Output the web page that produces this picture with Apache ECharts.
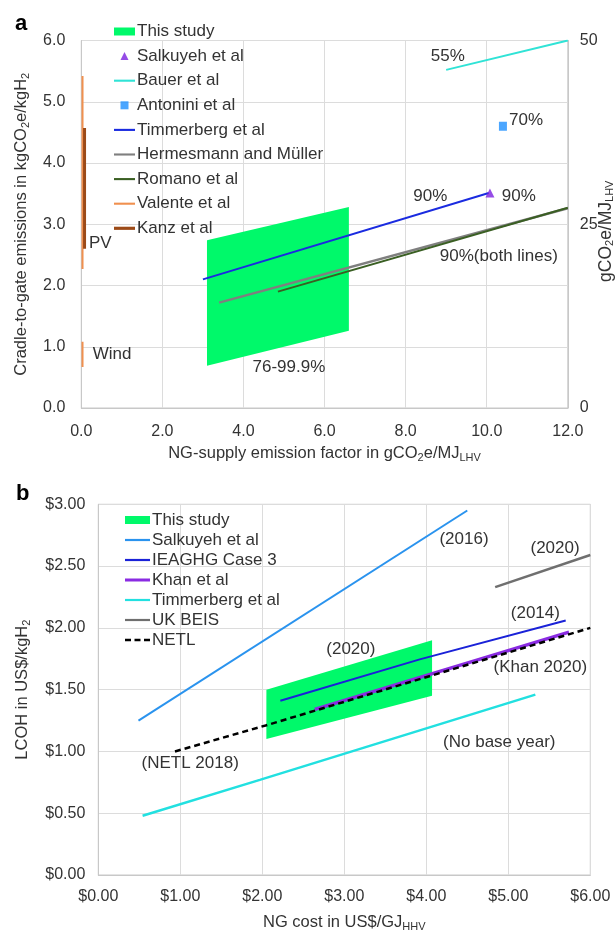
<!DOCTYPE html>
<html><head><meta charset="utf-8">
<script src="https://cdn.jsdelivr.net/npm/echarts@6.0.0/dist/echarts.min.js"></script>
<style>
html,body{margin:0;padding:0;background:#fff;}
#a{position:absolute;left:0;top:0;width:616px;height:465px;}
#b{position:absolute;left:0;top:465px;width:616px;height:466px;}
</style>
</head><body><div id="a"></div><div id="b"></div>
<script>
// ---------- Panel a data ----------
const studyA_X = [3.1, 6.6, 6.6, 3.1];
const studyA_Y = [2.74, 3.28, 1.26, 0.69];
const salkA_X = [10.08];
const salkA_Y = [3.51];
const bauerX = [9.0, 12.0];
const bauerY = [5.52, 6.0];
const antoniniX = [10.4];
const antoniniY = [4.6];
const timmA_X = [3.0, 10.05];
const timmA_Y = [2.1, 3.51];
const hermX = [3.4, 12.0];
const hermY = [1.72, 3.26];
const romX = [4.85, 12.0];
const romY = [1.9, 3.27];
const valenteX = [0.03, 0.03];
const valentePV_Y = [5.42, 2.27];
const valenteWind_Y = [1.08, 0.67];
const kanzX = [0.08, 0.08];
const kanzY = [4.57, 2.6];
const annotA_text = ['55%', '70%', '90%', '90%', '90%(both lines)', '76-99.9%', 'PV', 'Wind'];
const annotA_X = [9.04, 10.97, 8.61, 10.79, 10.30, 5.12, 0.47, 0.76];
const annotA_Y = [5.75, 4.69, 3.45, 3.45, 2.48, 0.67, 2.69, 0.87];

// ---------- Panel b data ----------
const studyB_X = [2.05, 4.07, 4.07, 2.05];
const studyB_Y = [1.50, 1.90, 1.45, 1.10];
const salkB_X = [0.49, 4.5];
const salkB_Y = [1.25, 2.95];
const ieaghgX = [2.22, 3.92, 5.70];
const ieaghgY = [1.41, 1.745, 2.06];
const khanX = [2.64, 5.74];
const khanY = [1.34, 1.965];
const timmB_X = [0.54, 1.97, 5.33];
const timmB_Y = [0.48, 0.77, 1.46];
const beisX = [4.84, 6.0];
const beisY = [2.33, 2.59];
const netlX = [0.935, 2.04, 6.0];
const netlY = [1.0, 1.21, 2.0];
const annotB_text = ['(2016)', '(2020)', '(2014)', '(2020)', '(Khan 2020)', '(No base year)', '(NETL 2018)'];
const annotB_X = [4.46, 5.57, 5.33, 3.08, 5.39, 4.89, 1.12];
const annotB_Y = [2.72, 2.645, 2.12, 1.83, 1.68, 1.075, 0.905];

// ---------- helpers ----------
const FONT = '"Liberation Sans", Arial, sans-serif';
const TXT = '#333333';
const GRID = '#dcdcdc';
const BORDER = '#c8c8c8';
const GREEN = '#00f96a';
const FS = 17;
const zip = (xs, ys) => xs.map((x, i) => [x, ys[i]]);
const rich = { sub: { fontSize: 11, lineHeight: 20, verticalAlign: 'bottom', fontFamily: FONT, color: TXT } };
const nameStyle = { fontSize: 16.5, lineHeight: 20, color: TXT, fontFamily: FONT, rich: rich };
const ICON_LINE2 = 'path://M0,0H20V2H0Z';
const ICON_LINE3 = 'path://M0,0H20V3H0Z';
const ICON_BLINE = 'path://M0,0H25V2.2H0Z';
const ICON_BLINE3 = 'path://M0,0H25V3H0Z';
const ICON_DASH = 'path://M0,0H6V2.6H0Z M9.5,0H15.5V2.6H9.5Z M19,0H25V2.6H19Z';

function lineSeries(name, xs, ys, color, width, extra) {
  return Object.assign({
    type: 'line', name: name, data: zip(xs, ys), symbol: 'none', silent: true,
    lineStyle: { color: color, width: width }, itemStyle: { color: color }, z: 3
  }, extra || {});
}
function polySeries(name, xs, ys) {
  return {
    type: 'custom', name: name, silent: true, z: 1,
    itemStyle: { color: GREEN },
    data: zip(xs, ys),
    encode: { x: 0, y: 1 },
    renderItem: function (params, api) {
      if (params.dataIndex !== 0) return;
      const pts = xs.map((x, i) => api.coord([x, ys[i]]));
      return { type: 'polygon', shape: { points: pts }, style: { fill: GREEN } };
    }
  };
}
function annotSeries(texts, xs, ys) {
  return {
    type: 'scatter', name: '_annot', silent: true, symbolSize: 1,
    itemStyle: { color: '#ffffff', opacity: 0 }, z: 5,
    data: texts.map((t, i) => ({ name: t, value: [xs[i], ys[i]] })),
    label: {
      show: true, position: [0.5, 0.5], align: 'center', verticalAlign: 'middle',
      formatter: '{b}', fontSize: FS, color: TXT, fontFamily: FONT, opacity: 1,
      textBorderWidth: 0
    }
  };
}
const axisCommon = {
  type: 'value',
  axisTick: { show: false },
  axisLine: { show: true, lineStyle: { color: BORDER, width: 1 } },
  splitLine: { show: true, lineStyle: { color: GRID, width: 1 } },
  nameLocation: 'middle',
  nameMoveOverlap: false,
  nameTextStyle: nameStyle
};
const legendText = { fontSize: FS, lineHeight: 17, color: TXT, fontFamily: FONT, padding: [0, 0, 0, -3] };

// ---------- Chart a ----------
const chartA = echarts.init(document.getElementById('a'), null, { renderer: 'canvas' });
chartA.setOption({
  animation: false,
  textStyle: { fontFamily: FONT },
  graphic: [{ type: 'text', left: 15, top: 13, style: { text: 'a', font: 'bold 22px ' + FONT, fill: '#000' } }],
  grid: { left: 81.3, right: 48.2, top: 40.5, height: 367.5, show: true, borderColor: BORDER, borderWidth: 1, outerBoundsMode: 'none', containLabel: false },
  legend: {
    orient: 'vertical', left: 114, top: 23, padding: 0, itemWidth: 21, itemHeight: 8, itemGap: 7.6,
    textStyle: legendText, selectedMode: false,
    data: [
      { name: 'This study', icon: 'rect' },
      { name: 'Salkuyeh et al', icon: 'path://M5,0L10,10L0,10Z' },
      { name: 'Bauer et al', icon: ICON_LINE2 },
      { name: 'Antonini et al', icon: 'path://M0,0H10V10H0Z' },
      { name: 'Timmerberg et al', icon: ICON_LINE2 },
      { name: 'Hermesmann and Müller', icon: ICON_LINE2 },
      { name: 'Romano et al', icon: ICON_LINE2 },
      { name: 'Valente et al', icon: ICON_LINE2 },
      { name: 'Kanz et al', icon: ICON_LINE3 }
    ]
  },
  xAxis: Object.assign({}, axisCommon, {
    min: 0, max: 12, interval: 2,
    axisLabel: { formatter: v => v.toFixed(1), fontSize: 16, color: TXT, margin: 16, fontFamily: FONT },
    name: 'NG-supply emission factor in gCO{sub|2}e/MJ{sub|LHV}', nameGap: 35
  }),
  yAxis: [
    Object.assign({}, axisCommon, {
      min: 0, max: 6, interval: 1,
      axisLabel: { formatter: v => v.toFixed(1), fontSize: 16, color: TXT, margin: 16, fontFamily: FONT },
      name: 'Cradle-to-gate emissions in kgCO{sub|2}e/kgH{sub|2}', nameRotate: 90, nameGap: 50
    }),
    Object.assign({}, axisCommon, {
      position: 'right', min: 0, max: 50, interval: 25,
      splitLine: { show: false },
      axisLabel: { fontSize: 16, color: TXT, margin: 12, fontFamily: FONT },
      name: 'gCO{sub|2}e/MJ{sub|LHV}', nameRotate: 90, nameGap: 28,
      nameTextStyle: Object.assign({}, nameStyle, { fontSize: 17.5, padding: [0, 14, 0, 0] })
    })
  ],
  series: [
    polySeries('This study', studyA_X, studyA_Y),
    lineSeries('Bauer et al', bauerX, bauerY, '#30e3d6', 2),
    lineSeries('Timmerberg et al', timmA_X, timmA_Y, '#1a2be0', 2),
    lineSeries('Hermesmann and Müller', hermX, hermY, '#7f7f7f', 2.5),
    lineSeries('Romano et al', romX, romY, '#3a5f23', 2),
    lineSeries('Valente et al', valenteX, valentePV_Y, '#f0904f', 2),
    lineSeries('Valente et al', valenteX, valenteWind_Y, '#f0904f', 2),
    lineSeries('Kanz et al', kanzX, kanzY, '#9c4a17', 3),
    {
      type: 'scatter', name: 'Salkuyeh et al', data: zip(salkA_X, salkA_Y), symbol: 'triangle',
      symbolSize: [9, 9], itemStyle: { color: '#7a1fe0' }, silent: true, z: 4
    },
    {
      type: 'scatter', name: 'Antonini et al', data: zip(antoniniX, antoniniY), symbol: 'rect',
      symbolSize: [8, 9], itemStyle: { color: '#1e90ff' }, silent: true, z: 4
    },
    annotSeries(annotA_text, annotA_X, annotA_Y)
  ]
});

// ---------- Chart b ----------
const chartB = echarts.init(document.getElementById('b'), null, { renderer: 'canvas' });
chartB.setOption({
  animation: false,
  textStyle: { fontFamily: FONT },
  graphic: [{ type: 'text', left: 16, top: 18, style: { text: 'b', font: 'bold 22px ' + FONT, fill: '#000' } }],
  grid: { left: 98.3, right: 25.7, top: 39.3, height: 370.7, show: true, borderColor: BORDER, borderWidth: 1, outerBoundsMode: 'none', containLabel: false },
  legend: {
    orient: 'vertical', left: 125, top: 46.5, padding: 0, itemWidth: 25, itemHeight: 8, itemGap: 3,
    textStyle: legendText, selectedMode: false,
    data: [
      { name: 'This study', icon: 'rect' },
      { name: 'Salkuyeh et al', icon: ICON_BLINE },
      { name: 'IEAGHG Case 3', icon: ICON_BLINE },
      { name: 'Khan et al', icon: ICON_BLINE3 },
      { name: 'Timmerberg et al', icon: ICON_BLINE },
      { name: 'UK BEIS', icon: ICON_BLINE },
      { name: 'NETL', icon: ICON_DASH }
    ]
  },
  xAxis: Object.assign({}, axisCommon, {
    min: 0, max: 6, interval: 1,
    axisLabel: { formatter: v => '$' + v.toFixed(2), fontSize: 16, color: TXT, margin: 14, fontFamily: FONT },
    name: 'NG cost in US$/GJ{sub|HHV}', nameGap: 37
  }),
  yAxis: Object.assign({}, axisCommon, {
    min: 0, max: 3, interval: 0.5,
    axisLabel: { formatter: v => '$' + v.toFixed(2), fontSize: 16, color: TXT, margin: 13, fontFamily: FONT },
    name: 'LCOH in US$/kgH{sub|2}', nameRotate: 90, nameGap: 66
  }),
  series: [
    polySeries('This study', studyB_X, studyB_Y),
    lineSeries('Salkuyeh et al', salkB_X, salkB_Y, '#2a93ee', 2),
    lineSeries('Khan et al', khanX, khanY, '#8a2be2', 3.5),
    lineSeries('IEAGHG Case 3', ieaghgX, ieaghgY, '#1a22d8', 2),
    lineSeries('Timmerberg et al', timmB_X, timmB_Y, '#22e0e0', 2.5),
    lineSeries('UK BEIS', beisX, beisY, '#6f6f6f', 2.5),
    lineSeries('NETL', netlX, netlY, '#000000', 2.5, { lineStyle: { color: '#000', width: 2.5, type: [6, 4] }, z: 4 }),
    annotSeries(annotB_text, annotB_X, annotB_Y)
  ]
});
</script></body></html>
